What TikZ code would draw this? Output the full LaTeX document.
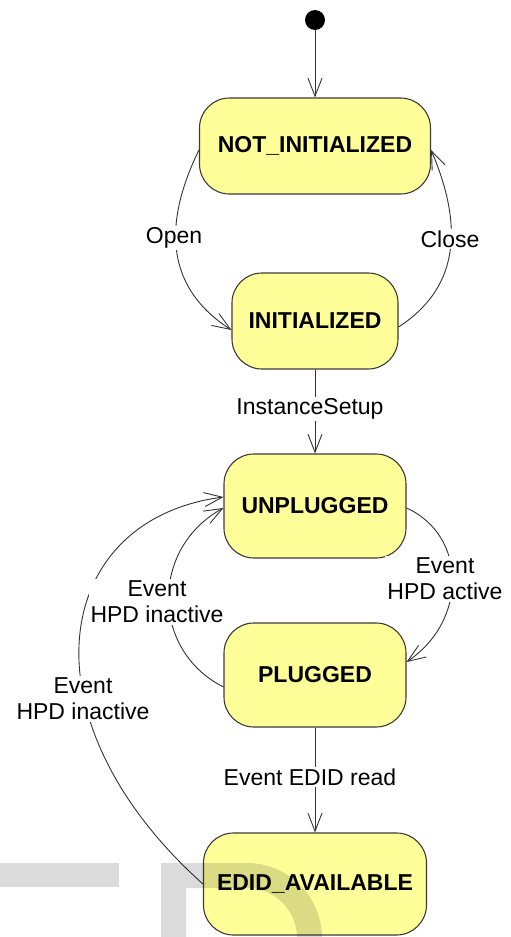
\documentclass[tikz,border=0pt]{standalone}
\usepackage{fontspec}
\setmainfont{Liberation Sans}
\usepackage{tikz}
\usetikzlibrary{arrows.meta,positioning}
\definecolor{StateFill}{HTML}{FFFF99}
\definecolor{StateLine}{HTML}{3A3A3A}
\definecolor{EdgeGrey}{HTML}{333333}

\begin{document}
\begin{tikzpicture}[x=1pt,y=-1pt,
    state/.style={draw=StateLine,fill=StateFill,line width=1.1pt,rounded corners=30pt,
      minimum height=96pt,inner sep=0pt,font=\fontsize{23}{26}\selectfont\bfseries},
    trans/.style={draw=EdgeGrey,line width=0.9pt,-{Straight Barb[length=18pt,width=14pt]}},
    lbl/.style={fill=white,inner sep=2pt,align=center,font=\fontsize{23}{26}\selectfont}]
  \useasboundingbox (0,0) rectangle (511,937);
  \node[circle,fill=black,minimum size=20pt,inner sep=0pt] (init) at (315,20) {};
  \node[state,minimum width=231pt] (notinit) at (315,146) {NOT\_INITIALIZED};
  \node[state,minimum width=166pt] (ini) at (315,321) {INITIALIZED};
  \node[state,minimum width=182pt,minimum height=104pt] (unplugged) at (315,506) {UNPLUGGED};
  \node[state,minimum width=182pt,minimum height=104pt] (plugged) at (315,675) {PLUGGED};
  \node[state,minimum width=223pt,minimum height=102pt] (edid) at (315,884) {EDID\_AVAILABLE};

  \draw[trans] (init) -- (notinit);
  \draw[trans] ([yshift=-4pt]notinit.west) .. controls +(-39,80) and +(-62,-40) .. ([yshift=-9pt]ini.west);
  \draw[trans] ([yshift=-6pt]ini.east) .. controls +(57,-37) and +(35,82) .. ([yshift=-4pt]notinit.east);
  \draw[trans] (ini) -- (unplugged);
  \draw[trans] ([yshift=-2pt]unplugged.east) .. controls +(60,27) and +(62,-42) .. ([yshift=13pt]plugged.east);
  \draw[trans] ([yshift=-12pt]plugged.west) .. controls +(-73,-37) and +(-73,40) .. ([yshift=-2pt]unplugged.west);
  \draw[trans] (edid.west) .. controls +(-183,-164) and +(-173,23) .. ([yshift=9pt]unplugged.west);
  \draw[trans] (plugged) -- (edid);

  \node[lbl] (lopen) at (174,238) {Open};
  \node[lbl] (lclose) at (450,239) {Close};
  \node[lbl] (lsetup) at (310,409) {InstanceSetup};
  \node[lbl] (lactive) at (445,579) {Event\\HPD active};
  \node[lbl] (linact) at (157,602) {Event\\HPD inactive};
  \node[lbl] (linact2) at (83,699) {Event\\HPD inactive};
  \node[lbl] (lread) at (310,777) {Event EDID read};

  \fill[black,opacity=0.14] (0,863) rectangle (119,887);
  \draw[black,opacity=0.14,line width=25pt] (173.5,950) -- (173.5,875.5) -- (247,875.5)
    arc[start angle=-90,end angle=0,radius=62.5] -- (309.5,950);
\end{tikzpicture}
\end{document}
